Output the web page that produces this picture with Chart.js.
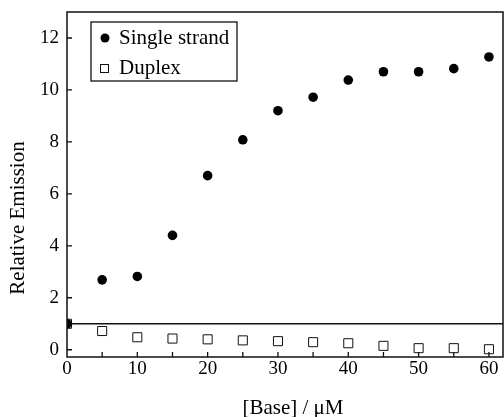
<!DOCTYPE html>
<html>
<head>
<meta charset="utf-8">
<script src="https://cdn.jsdelivr.net/npm/chart.js@4.4.1/dist/chart.umd.min.js"></script>
<style>
  html, body { margin: 0; padding: 0; background: #fff; }
  #wrap { width: 504px; height: 417px; }
</style>
</head>
<body>
<div id="wrap"><canvas id="c" width="504" height="417"></canvas></div>
<script>
// concentration of base, uM
const baseConc = [0, 5, 10, 15, 20, 25, 30, 35, 40, 45, 50, 55, 60];
// relative emission
const singleStrand = [1.0, 2.69, 2.82, 4.40, 6.70, 8.08, 9.20, 9.72, 10.38, 10.70, 10.70, 10.82, 11.27];
const duplex = [1.0, 0.72, 0.48, 0.43, 0.40, 0.36, 0.33, 0.29, 0.25, 0.15, 0.06, 0.06, 0.02];
const refLevel = 1;

const xTickLabels = [0, 10, 20, 30, 40, 50, 60];
const xMinorTicks = [5, 10, 15, 20, 25, 30, 35, 40, 45, 50, 55, 60];
const yTickLabels = [0, 2, 4, 6, 8, 10, 12];

const xRange = { min: 0, max: 62 };
const yRange = { min: -0.28, max: 13 };

const SERIF = '"Liberation Serif", "DejaVu Serif", serif';

// no extra label padding, the plot box is fixed by layout.padding
function noPad(s) {
    s.paddingTop = 0;
    s.paddingBottom = 0;
    s.paddingLeft = 0;
    s.paddingRight = 0;
}

// frame, inward ticks, axis titles and legend box
const framePlugin = {
    id: 'frame',
    afterDraw(chart) {
        const { ctx, chartArea: a, scales } = chart;
        ctx.save();
        ctx.strokeStyle = '#111';
        ctx.lineWidth = 1.5;
        ctx.strokeRect(a.left, a.top, a.right - a.left, a.bottom - a.top);

        // inward tick marks
        ctx.lineWidth = 1.3;
        ctx.beginPath();
        xMinorTicks.forEach(v => {
            const px = scales.x.getPixelForValue(v);
            ctx.moveTo(px, a.bottom);
            ctx.lineTo(px, a.bottom - 5);
        });
        yTickLabels.forEach(v => {
            const py = scales.y.getPixelForValue(v);
            ctx.moveTo(a.left, py);
            ctx.lineTo(a.left + 5, py);
        });
        ctx.stroke();

        // axis titles
        ctx.fillStyle = '#000';
        ctx.font = '21px ' + SERIF;
        ctx.textAlign = 'center';
        ctx.textBaseline = 'middle';
        ctx.fillText('[Base] / \u03bcM', 293, 408);
        ctx.translate(18, 218);
        ctx.rotate(-Math.PI / 2);
        ctx.fillText('Relative Emission', 0, 0);
        ctx.restore();

        // legend
        ctx.save();
        ctx.strokeStyle = '#111';
        ctx.lineWidth = 1.3;
        ctx.fillStyle = '#fff';
        ctx.fillRect(91, 22, 146, 59);
        ctx.strokeRect(91, 22, 146, 59);
        ctx.fillStyle = '#000';
        ctx.beginPath();
        ctx.arc(105, 38, 4.5, 0, Math.PI * 2);
        ctx.fill();
        ctx.lineWidth = 1;
        ctx.strokeRect(100.5, 64.5, 8, 8);
        ctx.font = '21px ' + SERIF;
        ctx.textAlign = 'left';
        ctx.textBaseline = 'middle';
        ctx.fillText('Single strand', 119, 38);
        ctx.fillText('Duplex', 119, 68);
        ctx.restore();
    }
};

new Chart(document.getElementById('c'), {
    type: 'scatter',
    data: {
        datasets: [
            {
                label: 'ref',
                type: 'line',
                data: [{ x: xRange.min, y: refLevel }, { x: xRange.max, y: refLevel }],
                borderColor: '#111',
                borderWidth: 1.5,
                pointRadius: 0,
                order: 3
            },
            {
                label: 'Duplex',
                data: baseConc.map((x, i) => ({ x, y: duplex[i] })),
                pointStyle: 'rect',
                pointRadius: 6.4,
                backgroundColor: '#fff',
                borderColor: '#111',
                borderWidth: 1,
                order: 2
            },
            {
                label: 'Single strand',
                data: baseConc.map((x, i) => ({ x, y: singleStrand[i] })),
                pointStyle: 'circle',
                pointRadius: 4.8,
                backgroundColor: '#000',
                borderColor: '#000',
                borderWidth: 0,
                order: 1
            }
        ]
    },
    options: {
        responsive: false,
        animation: false,
        layout: {
            autoPadding: false,
            padding: { top: 12, right: 1, left: 0, bottom: 0 }
        },
        plugins: {
            legend: { display: false },
            tooltip: { enabled: false }
        },
        scales: {
            x: {
                type: 'linear',
                min: xRange.min,
                max: xRange.max,
                afterFit: s => { s.height = 60; noPad(s); },
                afterBuildTicks: s => { s.ticks = xTickLabels.map(v => ({ value: v })); },
                grid: { display: false, drawTicks: false },
                border: { display: false },
                ticks: {
                    padding: 1,
                    maxRotation: 0,
                    color: '#000',
                    font: { family: SERIF, size: 19 }
                }
            },
            y: {
                type: 'linear',
                min: yRange.min,
                max: yRange.max,
                afterFit: s => { s.width = 67; noPad(s); },
                afterBuildTicks: s => { s.ticks = yTickLabels.map(v => ({ value: v })); },
                grid: { display: false, drawTicks: false },
                border: { display: false },
                ticks: {
                    padding: 8,
                    color: '#000',
                    font: { family: SERIF, size: 19 }
                }
            }
        }
    },
    plugins: [framePlugin]
});
</script>
</body>
</html>
